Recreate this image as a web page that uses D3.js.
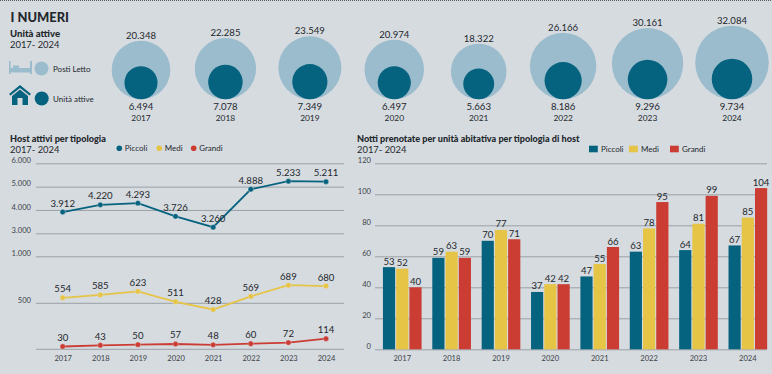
<!DOCTYPE html>
<html>
<head>
    <meta charset="utf-8">
    <title>I numeri</title>
    <script src="https://d3js.org/d3.v7.min.js"></script>
    <style>
        html, body { margin: 0; padding: 0; background: #d6dbe0; overflow: hidden; }
        svg { display: block; }
        text { font-family: Lato, "Open Sans", sans-serif; fill: #23282c; }
        .title { font-weight: 900; font-size: 9.1px; }
        .sub { font-size: 9.4px; }
        .val { font-size: 9.6px; text-anchor: middle; }
        .tick text { font-size: 7.6px; fill: #3d4348; }
        .tick line { stroke: #9aa1a6; stroke-width: 1; }
        .legend { font-size: 8px; }
    </style>
</head>
<body>
    <div id="chart"></div>

    <script>
        const years = ["2017", "2018", "2019", "2020", "2021", "2022", "2023", "2024"];

        // bubbles
        const postiLetto = [20348, 22285, 23549, 20974, 18322, 26166, 30161, 32084];
        const unitaAttive = [6494, 7078, 7349, 6497, 5663, 8186, 9296, 9734];

        // host attivi
        const hostPiccoli = [3912, 4220, 4293, 3726, 3260, 4888, 5233, 5211];
        const hostMedi = [554, 585, 623, 511, 428, 569, 689, 680];
        const hostGrandi = [30, 43, 50, 57, 48, 60, 72, 114];
        const hostTicks = [500, 1000, 3000, 4000, 5000, 6000];

        // notti prenotate
        const nottiPiccoli = [53, 59, 70, 37, 47, 63, 64, 67];
        const nottiMedi = [52, 63, 77, 42, 55, 78, 81, 85];
        const nottiGrandi = [40, 59, 71, 42, 66, 95, 99, 104];
        const nottiTicks = [0, 20, 40, 60, 80, 100, 120];

        const tipologie = ["Piccoli", "Medi", "Grandi"];
        const colori = ["#06637f", "#e6c445", "#cb3c33"];

        const it = d3.formatLocale({ decimal: ",", thousands: ".", grouping: [3], currency: ["€", ""] });
        const fmt = it.format(",");

        const svg = d3.select("#chart").append("svg")
            .attr("width", 772)
            .attr("height", 374);

        // dotted rule along the top edge
        svg.append("line")
            .attr("x1", 0).attr("x2", 772).attr("y1", 0.5).attr("y2", 0.5)
            .attr("stroke", "#555").attr("stroke-dasharray", "1,1");

        svg.append("text").attr("x", 10.5).attr("y", 22)
            .style("font-weight", 900).style("font-size", "12.9px").text("I NUMERI");
        svg.append("text").attr("class", "title").attr("x", 10).attr("y", 37).style("font-size", "9.6px").text("Unità attive");
        svg.append("text").attr("class", "sub").attr("x", 10).attr("y", 48).text("2017- 2024");

        // legend of the bubbles, with the two little icons
        const bed = svg.append("g").attr("transform", "translate(9,61)").attr("fill", "#9bbccd");
        bed.append("rect").attr("width", 1.6).attr("height", 13);
        bed.append("rect").attr("x", 21).attr("width", 2).attr("height", 13);
        bed.append("rect").attr("y", 7).attr("width", 22).attr("height", 4.5);
        bed.append("rect").attr("x", 4).attr("y", 4.5).attr("width", 6).attr("height", 3);

        svg.append("path")
            .attr("transform", "translate(9,85)")
            .attr("fill", "#06637f")
            .attr("d", "M0,9 L11,0 L22,9 L20.5,10.5 L11,3 L1.5,10.5Z M3,11 L11,4.5 L19,11 V20 H13.5 V13 H8.5 V20 H3Z");

        svg.append("circle").attr("cx", 41.5).attr("cy", 68.5).attr("r", 7).attr("fill", "#9bbccd");
        svg.append("circle").attr("cx", 41.7).attr("cy", 98.5).attr("r", 7).attr("fill", "#06637f");
        svg.append("text").attr("class", "legend").attr("x", 53).attr("y", 72).text("Posti Letto");
        svg.append("text").attr("class", "legend").attr("x", 53).attr("y", 102).text("Unità attive");

        // bubbles: area follows the value, all sitting on the same baseline
        const bubbleX = d3.scalePoint().domain(years).range([141, 732]);
        const bubbleR = d3.scaleSqrt().domain([0, d3.max(postiLetto)]).range([0, 36.8]);
        const bubbleBase = 99.3;

        const bubble = svg.append("g").selectAll("g")
            .data(years)
            .join("g")
            .attr("transform", d => "translate(" + bubbleX(d) + ",0)");

        bubble.append("circle")
            .attr("cy", (d, i) => bubbleBase - bubbleR(postiLetto[i]))
            .attr("r", (d, i) => bubbleR(postiLetto[i]))
            .attr("fill", "#9bbccd");
        bubble.append("circle")
            .attr("cy", (d, i) => bubbleBase - bubbleR(unitaAttive[i]))
            .attr("r", (d, i) => bubbleR(unitaAttive[i]))
            .attr("fill", "#06637f");
        bubble.append("text").attr("class", "val")
            .attr("y", (d, i) => bubbleBase - 2 * bubbleR(postiLetto[i]) - 2)
            .text((d, i) => fmt(postiLetto[i]));
        bubble.append("text").attr("class", "val")
            .attr("y", 109.5)
            .text((d, i) => fmt(unitaAttive[i]));
        bubble.append("text").attr("class", "val")
            .attr("y", 120.5)
            .style("font-size", "8.4px")
            .text(d => d);

        // line chart, the axis is broken between 1.000 and 3.000
        svg.append("text").attr("class", "title").attr("x", 10).attr("y", 142).text("Host attivi per tipologia");
        svg.append("text").attr("class", "sub").attr("x", 10).attr("y", 153).text("2017- 2024");

        const lineX = d3.scalePoint().domain(years).range([62.7, 326]);
        const lineY = d3.scaleLinear()
            .domain([0, 1000, 3000, 6000])
            .range([349.3, 256.3, 233.3, 163.3]);

        const hostAxis = svg.append("g")
            .attr("transform", "translate(36,0)")
            .call(d3.axisLeft(lineY).tickValues(hostTicks).tickFormat(fmt).tickSize(-308).tickPadding(5));
        hostAxis.select(".domain").remove();
        hostAxis.selectAll(".tick text").attr("dy", "-0.1em");

        const hostAxisX = svg.append("g")
            .attr("transform", "translate(0,349.3)")
            .call(d3.axisBottom(lineX).tickSize(0).tickPadding(6));
        hostAxisX.select(".domain").attr("stroke", "#9aa1a6").attr("d", "M36,0H344");

        const hostSeries = [hostPiccoli, hostMedi, hostGrandi];
        const line = d3.line().x((d, i) => lineX(years[i])).y(d => lineY(d));

        hostSeries.forEach(function(values, s) {
            svg.append("path")
                .datum(values)
                .attr("fill", "none")
                .attr("stroke", colori[s])
                .attr("stroke-width", 1.8)
                .attr("d", line);
            svg.append("g").selectAll("circle")
                .data(values)
                .join("circle")
                .attr("cx", (d, i) => lineX(years[i]))
                .attr("cy", d => lineY(d))
                .attr("r", 2.7)
                .attr("fill", colori[s])
                .attr("stroke", "#e4e7ea")
                .attr("stroke-opacity", 0.6)
                .attr("stroke-width", 0.6);
            svg.append("g").selectAll("text")
                .data(values)
                .join("text")
                .attr("class", "val")
                .attr("x", (d, i) => lineX(years[i]))
                .attr("y", d => lineY(d) - 5.5)
                .text(d => fmt(d));
        });

        const lineLegendX = [119.3, 159.3, 193.7];
        tipologie.forEach(function(t, i) {
            svg.append("circle").attr("cx", lineLegendX[i]).attr("cy", 148.3).attr("r", 2.8).attr("fill", colori[i]);
            svg.append("text").attr("class", "legend").attr("x", lineLegendX[i] + 5.5).attr("y", 151.3).text(t);
        });

        // grouped bars
        svg.append("text").attr("class", "title").attr("x", 357).attr("y", 141.5).text("Notti prenotate per unità abitativa per tipologia di host");
        svg.append("text").attr("class", "sub").attr("x", 357).attr("y", 153).text("2017- 2024");

        const barX = d3.scaleBand().domain(years).range([377.6, 772.5]).paddingInner(0.217).paddingOuter(0.108);
        const barInner = d3.scaleBand().domain(tipologie).range([0, barX.bandwidth()]).paddingInner(0.08);
        const barY = d3.scaleLinear().domain([0, 120]).range([349.3, 163.3]);

        const nottiAxis = svg.append("g")
            .attr("transform", "translate(375,0)")
            .call(d3.axisLeft(barY).tickValues(nottiTicks).tickSize(-392).tickPadding(4));
        nottiAxis.select(".domain").remove();
        nottiAxis.selectAll(".tick text").attr("dy", "-0.1em");

        const nottiAxisX = svg.append("g")
            .attr("transform", "translate(0,349.3)")
            .call(d3.axisBottom(barX).tickSize(0).tickPadding(6));
        nottiAxisX.select(".domain").remove();

        const nottiSeries = [nottiPiccoli, nottiMedi, nottiGrandi];

        nottiSeries.forEach(function(values, s) {
            const g = svg.append("g").attr("transform", "translate(" + barInner(tipologie[s]) + ",0)");
            g.selectAll("rect")
                .data(values)
                .join("rect")
                .attr("x", (d, i) => barX(years[i]))
                .attr("y", d => barY(d))
                .attr("width", barInner.bandwidth())
                .attr("height", d => barY(0) - barY(d))
                .attr("fill", colori[s]);
            g.selectAll("text")
                .data(values)
                .join("text")
                .attr("class", "val")
                .attr("x", (d, i) => barX(years[i]) + barInner.bandwidth() / 2)
                .attr("y", d => barY(d) - 2.5)
                .text(d => d);
        });

        const barLegendX = [589, 629, 670];
        tipologie.forEach(function(t, i) {
            svg.append("rect").attr("x", barLegendX[i]).attr("y", 145.7).attr("width", 8.8).attr("height", 6.6).attr("fill", colori[i]);
            svg.append("text").attr("class", "legend").attr("x", barLegendX[i] + 12).attr("y", 151.6).text(t);
        });
    </script>
</body>
</html>
